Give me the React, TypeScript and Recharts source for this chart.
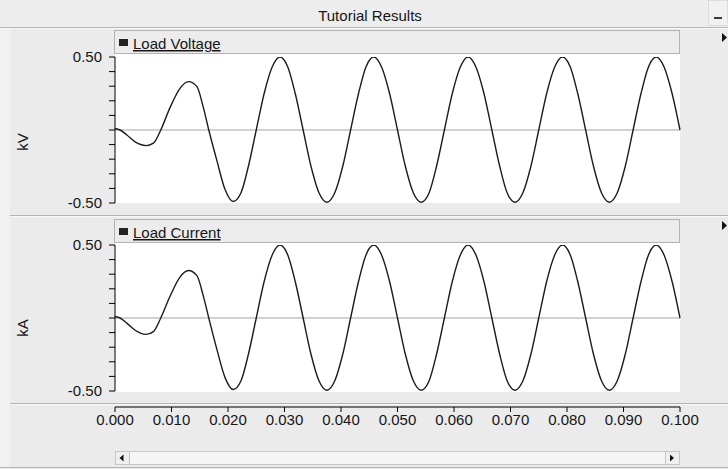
import React from 'react';
import { LineChart, Line, XAxis, YAxis, ReferenceLine } from 'recharts';

// time in seconds
const timeS = [
  0, 0.0009, 0.0021, 0.0035, 0.0055, 0.0068, 0.0081, 0.0097, 0.0115, 0.013,
  0.0145, 0.0156, 0.0166, 0.018, 0.0195, 0.0209, 0.0223, 0.0236, 0.025,
  0.0264, 0.0278, 0.0292, 0.0306, 0.0319, 0.0333, 0.0347, 0.0361, 0.0375, 0.0389, 0.0403, 0.0417,
  0.0431, 0.0444, 0.0458, 0.0472, 0.0486, 0.05, 0.0514, 0.0528, 0.0542, 0.0556, 0.0569, 0.0583,
  0.0597, 0.0611, 0.0625, 0.0639, 0.0653, 0.0667, 0.0681, 0.0694, 0.0708, 0.0722, 0.0736, 0.075,
  0.0764, 0.0778, 0.0792, 0.0806, 0.0819, 0.0833, 0.0847, 0.0861, 0.0875, 0.0889, 0.0903, 0.0917,
  0.0931, 0.0944, 0.0958, 0.0972, 0.0986, 0.1,
];

// Load Voltage (kV)
const loadVoltage = [
  0.01, 0, -0.034, -0.08, -0.107, -0.09, 0, 0.15, 0.285, 0.331,
  0.297, 0.16, 0, -0.205, -0.41, -0.49, -0.43, -0.25, 0,
  0.25, 0.43, 0.5, 0.43, 0.25, 0, -0.25, -0.43, -0.495, -0.43, -0.25, 0,
  0.25, 0.43, 0.5, 0.43, 0.25, 0, -0.25, -0.43, -0.495, -0.43, -0.25, 0,
  0.25, 0.43, 0.5, 0.43, 0.25, 0, -0.25, -0.43, -0.495, -0.43, -0.25, 0,
  0.25, 0.43, 0.5, 0.43, 0.25, 0, -0.25, -0.43, -0.495, -0.43, -0.25, 0,
  0.25, 0.43, 0.5, 0.43, 0.25, 0,
];

// Load Current (kA)
const loadCurrent = [
  0.01, 0, -0.035, -0.082, -0.112, -0.093, 0, 0.145, 0.28, 0.325,
  0.29, 0.155, 0, -0.21, -0.41, -0.49, -0.43, -0.25, 0,
  0.25, 0.43, 0.5, 0.43, 0.25, 0, -0.25, -0.43, -0.495, -0.43, -0.25, 0,
  0.25, 0.43, 0.5, 0.43, 0.25, 0, -0.25, -0.43, -0.495, -0.43, -0.25, 0,
  0.25, 0.43, 0.5, 0.43, 0.25, 0, -0.25, -0.43, -0.495, -0.43, -0.25, 0,
  0.25, 0.43, 0.5, 0.43, 0.25, 0, -0.25, -0.43, -0.495, -0.43, -0.25, 0,
  0.25, 0.43, 0.5, 0.43, 0.25, 0,
];

const xTicks = [0, 0.01, 0.02, 0.03, 0.04, 0.05, 0.06, 0.07, 0.08, 0.09, 0.1];
const yTicks = [-0.5, -0.4, -0.3, -0.2, -0.1, 0, 0.1, 0.2, 0.3, 0.4, 0.5];
const yLabeled = [-0.5, 0.5];

const title = 'Tutorial Results';
const panelNames = ['Load Voltage', 'Load Current'];
const unitNames = ['kV', 'kA'];

const data = timeS.map((t, i) => ({ t, v: loadVoltage[i], c: loadCurrent[i] }));

const FONT = '"Liberation Sans", Arial, sans-serif';
const TXT = '#161616';

const YTick = (props: any) => {
  const { x, y, payload } = props;
  const val = payload.value;
  if (!yLabeled.some((l) => Math.abs(l - val) < 1e-9)) return <g />;
  return (
    <text x={x} y={y + 5.3} textAnchor="end" fontSize={15} fill={TXT} fontFamily={FONT}>
      {val.toFixed(2)}
    </text>
  );
};

const XTick = (props: any) => {
  const { x, y, payload } = props;
  return (
    <text x={x} y={y + 10.5} textAnchor="middle" fontSize={15} fill={TXT} fontFamily={FONT}>
      {payload.value.toFixed(3)}
    </text>
  );
};

const Panel = ({ top, height, mTop, mBottom, dataKey }: any) => (
  <div style={{ position: 'absolute', left: 0, top, width: 728, height }}>
    <LineChart width={728} height={height} data={data} margin={{ top: mTop, right: 48, bottom: mBottom, left: 0 }}>
      <XAxis dataKey="t" type="number" domain={[0, 0.1]} hide />
      <YAxis
        type="number"
        domain={[-0.5, 0.5]}
        ticks={yTicks}
        interval={0}
        width={115}
        tickSize={6}
        tickMargin={7}
        axisLine={{ stroke: '#000', strokeWidth: 1 }}
        tickLine={{ stroke: '#000', strokeWidth: 1 }}
        tick={<YTick />}
        allowDataOverflow
      />
      <ReferenceLine y={0} stroke="#a3a3a3" strokeWidth={1} />
      <Line
        type="monotone"
        dataKey={dataKey}
        stroke="#1c1c1c"
        strokeWidth={1.4}
        dot={false}
        isAnimationActive={false}
      />
    </LineChart>
  </div>
);

export default function App() {
  return (
    <div
      style={{
        position: 'absolute',
        left: 0,
        top: 0,
        width: 728,
        height: 469,
        overflow: 'hidden',
        background: '#ececec',
        fontFamily: FONT,
      }}
    >
      {/* background decorations */}
      <svg width={728} height={469} style={{ position: 'absolute', left: 0, top: 0 }}>
        <rect x={0} y={0} width={728} height={469} fill="#ebebeb" />
        <rect x={0} y={0} width={728} height={27} fill="#ededed" />
        <rect x={0} y={29} width={10} height={440} fill="#f1f1f1" />
        <line x1={0} x2={728} y1={27.5} y2={27.5} stroke="#b7b7b7" />
        <line x1={0} x2={728} y1={28.5} y2={28.5} stroke="#f7f7f7" />
        {/* minimize button */}
        <rect x={708.5} y={0.5} width={19} height={25} fill="#f1f1f1" stroke="#dcdcdc" />
        <rect x={714} y={17} width={8} height={2} fill="#3a3a3a" />
        {/* separators */}
        <line x1={10} x2={728} y1={215.5} y2={215.5} stroke="#b4b4b4" />
        <line x1={10} x2={728} y1={216.5} y2={216.5} stroke="#f8f8f8" />
        <line x1={10} x2={728} y1={403.5} y2={403.5} stroke="#b4b4b4" />
        <line x1={10} x2={728} y1={404.5} y2={404.5} stroke="#f8f8f8" />
        <line x1={0} x2={728} y1={467.5} y2={467.5} stroke="#b4b4b4" />
        {/* plot areas */}
        <rect x={115} y={54} width={565} height={149} fill="#ffffff" />
        <rect x={115} y={243} width={565} height={149} fill="#ffffff" />
        {/* legend boxes */}
        <rect x={114.5} y={30.5} width={565} height={23} fill="#ececec" stroke="#b2b2b2" />
        <rect x={114.5} y={219.5} width={565} height={23} fill="#ececec" stroke="#b2b2b2" />
        {/* scrollbar */}
        <rect x={115.5} y={451.5} width={564} height={13} fill="#f5f5f5" stroke="#c6c6c6" />
        <rect x={115.5} y={451.5} width={14} height={13} fill="#efefef" stroke="#c6c6c6" />
        <rect x={665.5} y={451.5} width={14} height={13} fill="#efefef" stroke="#c6c6c6" />
      </svg>

      <Panel top={0} height={215} mTop={57} mBottom={12} dataKey="v" />
      <Panel top={215} height={188} mTop={30} mBottom={12} dataKey="c" />

      {/* shared time axis */}
      <div style={{ position: 'absolute', left: 0, top: 397, width: 728, height: 50 }}>
        <LineChart width={728} height={50} data={data} margin={{ top: 0, right: 48, bottom: 0, left: 115 }}>
          <XAxis
            dataKey="t"
            type="number"
            domain={[0, 0.1]}
            ticks={xTicks}
            interval={0}
            height={40}
            tickSize={5}
            axisLine={{ stroke: '#000' }}
            tickLine={{ stroke: '#000' }}
            tick={<XTick />}
          />
          <YAxis hide domain={[-0.5, 0.5]} />
          <Line dataKey="v" stroke="none" dot={false} isAnimationActive={false} />
        </LineChart>
      </div>

      {/* overlay texts */}
      <svg width={728} height={469} style={{ position: 'absolute', left: 0, top: 0, pointerEvents: 'none' }}>
        <text x={370} y={20.5} textAnchor="middle" fontSize={15} fill={TXT} fontFamily={FONT}>
          {title}
        </text>
        <rect x={119} y={39} width={9} height={7} fill="#222" />
        <text x={133} y={49} fontSize={15} fill={TXT} fontFamily={FONT} style={{ textDecoration: 'underline' }}>
          {panelNames[0]}
        </text>
        <rect x={119} y={228} width={9} height={7} fill="#222" />
        <text x={133} y={238} fontSize={15} fill={TXT} fontFamily={FONT} style={{ textDecoration: 'underline' }}>
          {panelNames[1]}
        </text>
        <text transform="translate(28,142) rotate(-90)" textAnchor="middle" fontSize={15} fill={TXT} fontFamily={FONT}>
          {unitNames[0]}
        </text>
        <text transform="translate(28,328) rotate(-90)" textAnchor="middle" fontSize={15} fill={TXT} fontFamily={FONT}>
          {unitNames[1]}
        </text>
        <polygon points="722,33 727,37.5 722,42" fill="#111" />
        <polygon points="722,221 727,225.5 722,230" fill="#111" />
        <polygon points="123.5,454.5 119.5,458 123.5,461.5" fill="#111" />
        <polygon points="670,454.5 674,458 670,461.5" fill="#111" />
      </svg>
    </div>
  );
}
